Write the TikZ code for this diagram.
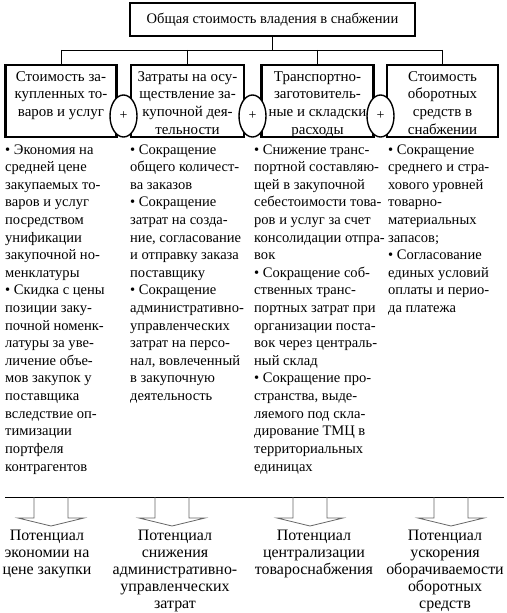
\documentclass[tikz,border=0pt]{standalone}
\usepackage{fontspec}
\setmainfont{Liberation Serif}
\usetikzlibrary{shapes.geometric}
\begin{document}
\begin{tikzpicture}[x=1bp,y=-1bp,
  bigbox/.style={draw,line width=2.8bp,inner sep=0pt,minimum height=72bp},
  conn/.style={draw,line width=0.9bp},
  plus/.style={ellipse,draw,fill=white,line width=1.4bp,inner sep=0pt,minimum width=27bp,minimum height=42bp,font=\fontsize{14}{17}\selectfont},
  title/.style={anchor=north,align=center,inner sep=0pt,font=\fontsize{15}{17.7}\selectfont},
  coltext/.style={anchor=north west,align=left,inner sep=0pt,font=\fontsize{14.6}{17.67}\selectfont},
  result/.style={anchor=north,align=center,inner sep=0pt,font=\fontsize{16}{17.2}\selectfont},
  blockarrow/.style={draw=black!60,line width=0.8bp}
]
\useasboundingbox (0,0) rectangle (507,613);
% top box
\node[draw,line width=2.8bp,inner sep=0pt,minimum width=285bp,minimum height=33bp,font=\fontsize{14.6}{17}\selectfont] (top) at (272.5,19.5) {Общая стоимость владения в снабжении};
% category boxes
\node[bigbox,minimum width=111bp] (b1) at (61,101) {};
\node[bigbox,minimum width=113bp] (b2) at (187.5,101) {};
\node[bigbox,minimum width=112bp] (b3) at (317.5,101) {};
\node[bigbox,minimum width=111bp] (b4) at (442.5,101) {};
\node[title] (t1) at (61,68.6) {\strut Стоимость за-\\купленных то-\\варов и услуг};
\node[title] (t2) at (187.5,68.6) {\strut Затраты на осу-\\ществление за-\\купочной дея-\\тельности};
\node[title] (t3) at (317.5,68.6) {\strut Транспортно-\\заготовитель-\\ные и складски\\расходы};
\node[title] (t4) at (442.5,68.6) {\strut Стоимость\\оборотных\\средств в\\снабжении};
% tree connectors
\coordinate (h) at (0,50);
\draw[conn] (top.south) -- (top.south |- h);
\draw[conn] (b1.north |- h) -- (b4.north |- h);
\foreach \b in {b1,b2,b3,b4} \draw[conn] (\b.north |- h) -- (\b.north);
% plus signs
\node[plus] (p1) at (123.5,116) {+};
\node[plus] (p2) at (252.5,116) {+};
\node[plus] (p3) at (380.5,116) {+};
% column texts
\node[coltext] (c1) at (5,141.6) {\strut • Экономия на\\средней цене\\закупаемых то-\\варов и услуг\\посредством\\унификации\\закупочной но-\\менклатуры\\• Скидка с цены\\позиции заку-\\почной номенк-\\латуры за уве-\\личение объе-\\мов закупок у\\поставщика\\вследствие оп-\\тимизации\\портфеля\\контрагентов};
\node[coltext] (c2) at (130,141.6) {\strut • Сокращение\\общего количест-\\ва заказов\\• Сокращение\\затрат на созда-\\ние, согласование\\и отправку заказа\\поставщику\\• Сокращение\\административно-\\управленческих\\затрат на персо-\\нал, вовлеченный\\в закупочную\\деятельность};
\node[coltext] (c3) at (254,141.6) {\strut • Снижение транс-\\портной составляю-\\щей в закупочной\\себестоимости това-\\ров и услуг за счет\\консолидации отпра-\\вок\\• Сокращение соб-\\ственных транс-\\портных затрат при\\организации поста-\\вок через централь-\\ный склад\\• Сокращение про-\\странства, выде-\\ляемого под скла-\\дирование ТМЦ в\\территориальных\\единицах};
\node[coltext] (c4) at (388,141.6) {\strut • Сокращение\\среднего и стра-\\хового уровней\\товарно-\\материальных\\запасов;\\• Согласование\\единых условий\\оплаты и перио-\\да платежа};
% bottom line and arrows
\coordinate (l1) at (5,497);
\coordinate (l2) at (504,497);
\draw[conn] (l1) -- (l2);
\coordinate (a1) at (51,497);
\coordinate (a2) at (172,497);
\coordinate (a3) at (310,497);
\coordinate (a4) at (451,497);
\foreach \a in {a1,a2,a3,a4}
  \draw[blockarrow] ([shift={(-17,0)}]\a) -- ++(0,21) -- ++(-16,0) -- ++(33,8) -- ++(33,-8) -- ++(-16,0) -- ++(0,-21);
% results
\node[result] (r1) at (47,527.8) {\strut Потенциал\\экономии на\\цене закупки};
\node[result] (r2) at (175,527.8) {\strut Потенциал\\снижения\\административно-\\управленческих\\затрат};
\node[result] (r3) at (314,527.8) {\strut Потенциал\\централизации\\товароснабжения};
\node[result] (r4) at (445,527.8) {\strut Потенциал\\ускорения\\оборачиваемости\\оборотных\\средств};
\end{tikzpicture}
\end{document}
